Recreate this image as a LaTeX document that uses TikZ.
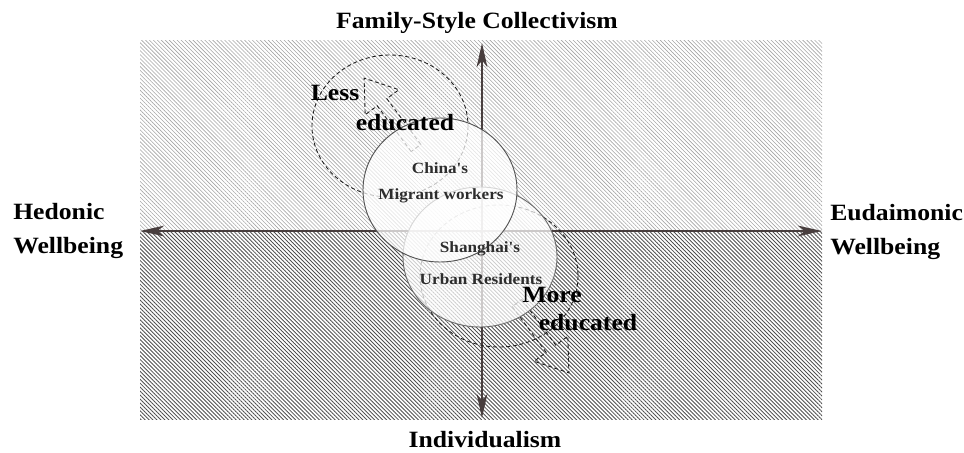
\documentclass[tikz,border=0pt]{standalone}
\usepackage{fontspec}
\setmainfont{Liberation Serif}
\newfontfamily\axfont[FakeStretch=1.1]{Liberation Serif}
\usetikzlibrary{arrows.meta,patterns.meta}

\begin{document}
\begin{tikzpicture}[x=0.75pt,y=0.75pt,yscale=-1,xscale=1,
  axtip/.tip={Stealth[length=18pt,width=8pt,inset=5pt]},
  axis/.style={color={rgb, 255:red, 72; green, 62; blue, 62 }, axtip-axtip},
  axislbl/.style={font={\axfont\bfseries\fontsize{17.5}{25.5}\selectfont}, inner sep=0pt, align=left},
  grouplbl/.style={font={\axfont\bfseries\fontsize{11.7}{14}\selectfont}, text={rgb, 255:red, 45; green, 45; blue, 45 }, inner sep=0pt},
  edulbl/.style={font={\axfont\bfseries\fontsize{17.5}{20}\selectfont}, inner sep=0pt},
  trend/.style={dash pattern=on 3pt off 2pt, line width=0.65pt, color={rgb, 255:red, 30; green, 30; blue, 30 }},
  group/.style={fill=white, fill opacity=0.72, line width=0.7pt}]
\useasboundingbox (0,0) rectangle (964,453);

%Shape: Rectangle [upper half]
\fill [pattern={Lines[angle=-45,distance=2.1pt,line width=0.45pt]}, pattern color={rgb, 255:red, 165; green, 165; blue, 165 }] (140,41) rectangle (822,231);
%Shape: Rectangle [lower half]
\fill [pattern={Lines[angle=-45,distance=2.1pt,line width=0.65pt]}, pattern color={rgb, 255:red, 80; green, 80; blue, 80 }] (140,231) rectangle (822,419);

%Straight Lines [axes]
\coordinate (axN) at (482,43);
\coordinate (axS) at (482,418);
\coordinate (axW) at (140,231);
\coordinate (axE) at (822,231);
\draw [axis, line width=1.5pt] (axW) -- (axE);
\draw [axis, line width=2pt] (axS) -- (axN);

%Shape: Ellipse [dashed]
\draw [trend] (390,126) ellipse [x radius=78, y radius=71];
\draw [trend] (499,276) ellipse [x radius=79, y radius=71];

%Shape: Right Arrow [up]
\begin{scope}[shift={(416,148)}, rotate=-126.6]
\draw [trend] (0,-6) -- (57,-6) -- (57,-21) -- (87,0) -- (57,21) -- (57,6) -- (0,6) -- cycle;
\end{scope}
%Shape: Right Arrow [down]
\begin{scope}[shift={(517,303)}, rotate=53.4]
\draw [trend] (0,-6) -- (57,-6) -- (57,-21) -- (87,0) -- (57,21) -- (57,6) -- (0,6) -- cycle;
\end{scope}

%Shape: Circle
\draw [group, draw={rgb, 255:red, 110; green, 110; blue, 110 }] (480,257) ellipse [x radius=77, y radius=70];
\draw [group, draw={rgb, 255:red, 85; green, 85; blue, 85 }] (440,190) ellipse [x radius=77, y radius=72];

% Text Node
\node [axislbl, anchor=base] (collect) at (477,29) {Family-Style Collectivism};
\node [axislbl, anchor=base] (indiv) at (485,447) {Individualism};
\node [axislbl, anchor=west] (hedon) at (13,231) {Hedonic\\Wellbeing};
\node [axislbl, anchor=west] (eudai) at (830,232) {Eudaimonic\\Wellbeing};
\node [grouplbl] (china) at (440,168) {China's};
\node [grouplbl] (migrant) at (441,196) {Migrant workers};
\node [grouplbl] (shanghai) at (480,249) {Shanghai's};
\node [grouplbl] (urban) at (481,279) {Urban Residents};
\node [edulbl] (less) at (335,93) {Less};
\node [edulbl] (lessedu) at (405,123) {educated};
\node [edulbl] (more) at (552,295) {More};
\node [edulbl] (moreedu) at (588,323) {educated};

\end{tikzpicture}
\end{document}
